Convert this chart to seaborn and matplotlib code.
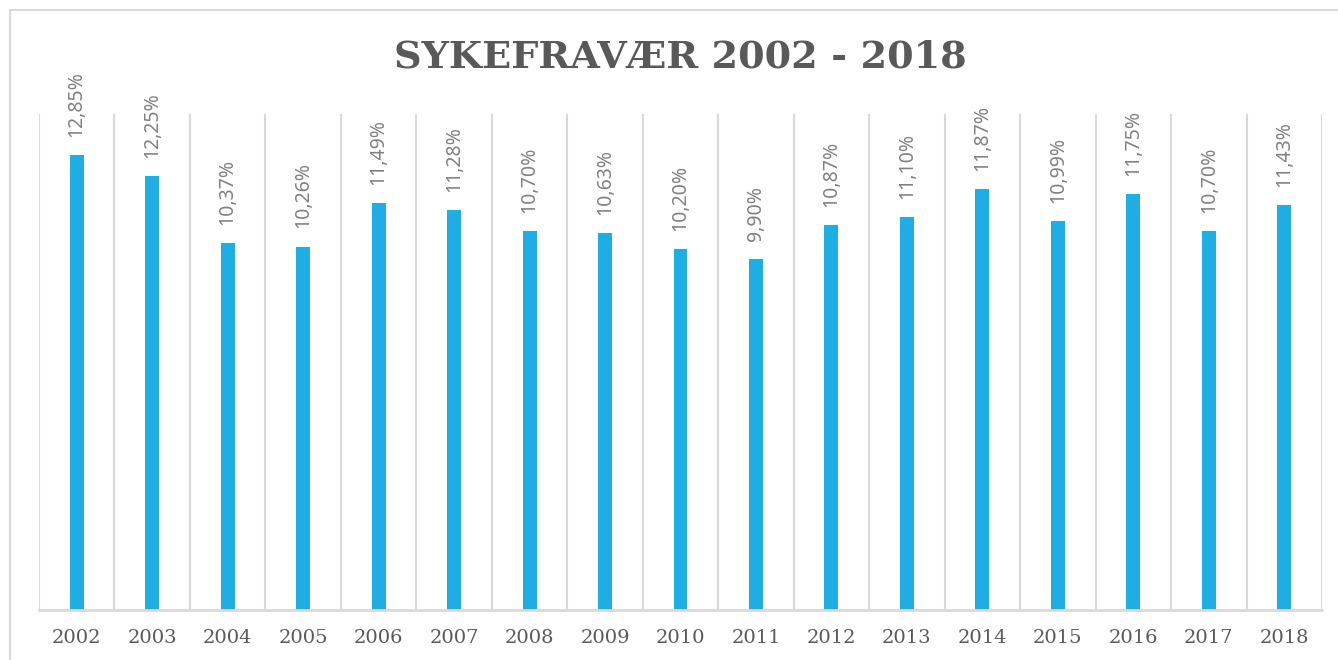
import matplotlib
matplotlib.use("Agg")
import matplotlib.pyplot as plt
import seaborn as sns
import pandas as pd
import numpy as np
from matplotlib.lines import Line2D

years = ["2002", "2003", "2004", "2005", "2006", "2007", "2008", "2009", "2010",
         "2011", "2012", "2013", "2014", "2015", "2016", "2017", "2018"]
values = [12.85, 12.25, 10.37, 10.26, 11.49, 11.28, 10.70, 10.63, 10.20,
          9.90, 10.87, 11.10, 11.87, 10.99, 11.75, 10.70, 11.43]
title = "SYKEFRAVÆR 2002 - 2018"

sns.set_theme(style="white")
plt.rcParams["font.family"] = ["DejaVu Sans"]

W, H = 1338, 660
fig = plt.figure(figsize=(W / 100, H / 100), dpi=100)
ax = fig.add_axes([39 / W, (H - 610) / H, (1322 - 39) / W, (610 - 114) / H])

df = pd.DataFrame({"year": years, "value": values})
bar_color = "#1FAEE3"
sns.barplot(data=df, x="year", y="value", color=bar_color, width=0.185,
            saturation=1, ax=ax, edgecolor="none")

ax.set_ylim(0, 14)
ax.set_xlim(-0.5, len(years) - 0.5)
ax.set_xlabel("")
ax.set_ylabel("")
ax.set_yticks([])

grid_c = "#D9D9D9"
ax.set_xticks(np.arange(-0.5, len(years)), minor=True)
ax.grid(False)
ax.grid(True, which="minor", axis="x", color=grid_c, linewidth=1.5)
ax.tick_params(axis="x", which="both", length=0)
for s in ["left", "right", "top"]:
    ax.spines[s].set_visible(False)
ax.spines["bottom"].set_color(grid_c)
ax.spines["bottom"].set_linewidth(2)

for lbl in ax.get_xticklabels():
    lbl.set_fontfamily("DejaVu Serif")
    lbl.set_fontsize(14)
    lbl.set_color("#595959")
ax.tick_params(axis="x", pad=14)

for i, v in enumerate(values):
    txt = f"{v:.2f}%".replace(".", ",")
    ax.annotate(txt, (i, v), xytext=(0, 13), textcoords="offset points",
                rotation=90, ha="center", va="bottom", fontsize=14,
                color="#808080", family="Noto Sans")

fig.text(680 / W, 1 - 57 / H, title, ha="center", va="center",
         fontsize=27.5, fontweight="bold", family="DejaVu Serif", color="#595959")

fig.add_artist(Line2D([10 / W, 1], [1 - 10 / H, 1 - 10 / H], transform=fig.transFigure,
                      color=grid_c, linewidth=1.5))
fig.add_artist(Line2D([10 / W, 10 / W], [0, 1 - 10 / H], transform=fig.transFigure,
                      color=grid_c, linewidth=1.5))

fig.savefig("out.png", dpi=100, facecolor="white")
